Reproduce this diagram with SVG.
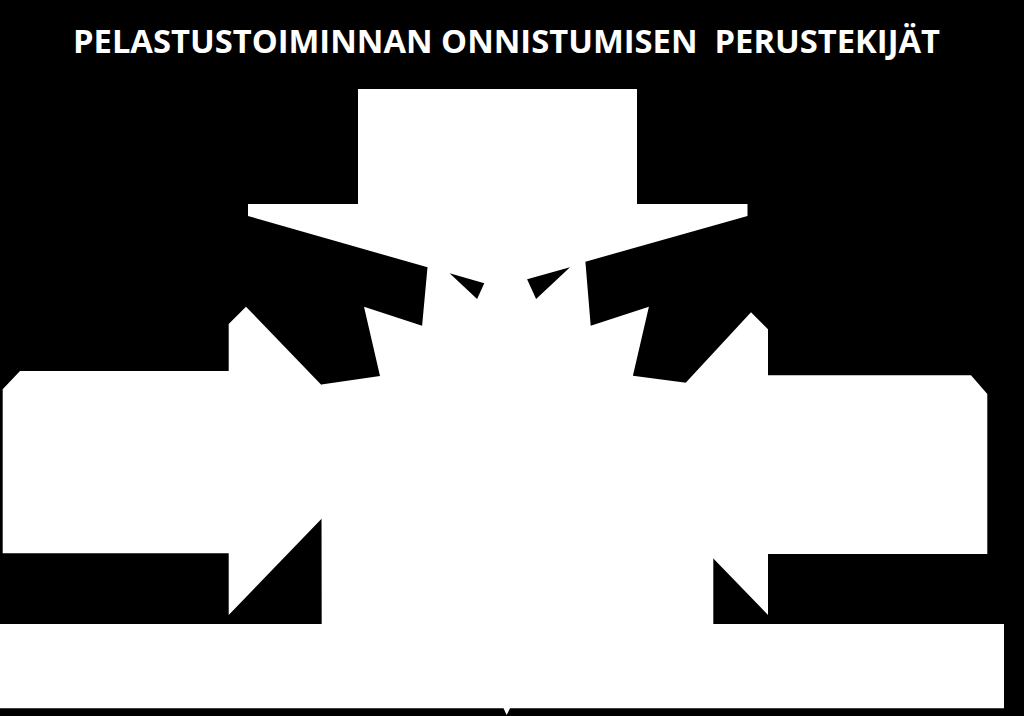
<svg xmlns="http://www.w3.org/2000/svg" width="1024" height="716" viewBox="0 0 1024 716">
<style>
.w{fill:#ffffff;stroke:none}
.k{fill:#000000;stroke:none}
.title{font-family:"Open Sans","Liberation Sans",sans-serif;font-weight:bold;font-size:32px;fill:#ffffff}
</style>
<rect x="0" y="0" width="1024" height="716" fill="#000000"/>
<text class="title" x="73" y="53" textLength="867" lengthAdjust="spacingAndGlyphs" xml:space="preserve">PELASTUSTOIMINNAN ONNISTUMISEN  PERUSTEKIJÄT</text>
<g id="top-block">
<polygon class="w" points="358,89 637,89 637,204 747.5,204 747.5,216 585.4,261.7 507,290 427.5,267.3 248,216 248,204 358,204"/>
</g>
<g id="center">
<polygon class="w" points="427.5,267.3 507,250 585.4,261.7 590.7,325.7 648.9,306.7 632.9,375.7 686,382.7 713.3,384 713.3,624 321.7,624 321.3,384.5 380,376 364,306.7 422.1,325.7"/>
<polygon class="k" points="449.6,273.3 484.3,283.3 477.1,299"/>
<polygon class="k" points="527.1,279.3 570,267.3 536.1,299"/>
</g>
<g id="left-arrow">
<polygon class="w" points="2.7,389.3 20,371 228.7,371 228.7,324 246,306.7 386,452 228.7,615 228.7,553.3 2.7,553.3"/>
</g>
<g id="right-arrow">
<polygon class="w" points="768,329.3 751,312.3 616,458 768,615 768,554 987.3,554 987.3,394 971,375.3 768,375.3"/>
</g>
<g id="bottom-band">
<polygon class="w" points="0,624 1004,624 1004,708.3 510,708.3 506.7,715 503.5,708.3 0,708.3"/>
</g>
<g id="connectors"></g>
</svg>
